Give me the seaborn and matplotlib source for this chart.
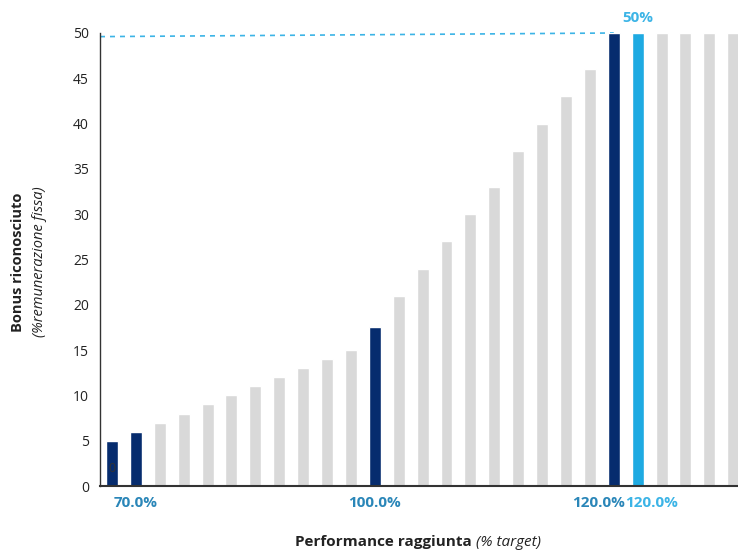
import matplotlib
matplotlib.use("Agg")
import matplotlib.pyplot as plt
import matplotlib.transforms as mtransforms
import seaborn as sns
import pandas as pd

# Data
bonus = [5, 6, 7, 8, 9, 10, 11, 12, 13, 14, 15, 17.5, 21, 24, 27, 30, 33, 37, 40, 43, 46,
         50, 50, 50, 50, 50, 50]
groups = ['dark', 'dark', 'gray', 'gray', 'gray', 'gray', 'gray', 'gray', 'gray', 'gray', 'gray',
          'dark', 'gray', 'gray', 'gray', 'gray', 'gray', 'gray', 'gray', 'gray', 'gray',
          'dark', 'light', 'gray', 'gray', 'gray', 'gray']
yticks = [0, 5, 10, 15, 20, 25, 30, 35, 40, 45, 50]
palette = {'dark': '#062C6E', 'light': '#1EAAE2', 'gray': '#D9D9D9'}

sns.set_style("white")
plt.rcParams['font.family'] = ['Open Sans', 'DejaVu Sans']

df = pd.DataFrame({'pos': list(range(len(bonus))), 'bonus': bonus, 'grp': groups})

fig = plt.figure(figsize=(7.38, 5.52), dpi=100)
ax = fig.add_axes([100/738, 1-486/552, 1-100/738, (486-33)/552])
sns.barplot(data=df, x='pos', y='bonus', hue='grp', palette=palette, dodge=False,
            width=0.5, legend=False, ax=ax, saturation=1)

ax.set_xlim(-0.5, 26.2)
ax.set_ylim(0, 50)
ax.set_yticks(yticks)
ax.set_yticklabels([str(t) for t in yticks], fontsize=10, color='#222222')
ax.set_xticks([])
ax.set_xlabel('')
ax.set_ylabel('')
ax.tick_params(axis='y', length=0, pad=8)
for s in ['top', 'right']:
    ax.spines[s].set_visible(False)
ax.spines['left'].set_color('#333333')
ax.spines['bottom'].set_color('#333333')
ax.spines['left'].set_linewidth(1.0)
ax.spines['bottom'].set_linewidth(1.5)

# dashed target line
ax.plot([-0.5, 21], [49.6, 50], ls=(0, (3, 3)), color='#3CB4E6', lw=1.2, clip_on=False, zorder=0)

# labels
ax.text(22, 50.9, '50%', color='#3CB4E6', fontsize=11, fontweight='bold', ha='center', va='bottom')
ax.text(0, 1.2, '0', color='#333333', fontsize=9, ha='center', va='bottom', zorder=10)

trans = mtransforms.blended_transform_factory(ax.transData, ax.transAxes)
ax.text(1, -0.038, '70.0%', color='#2A86B8', fontsize=11, fontweight='bold', ha='center', va='center', transform=trans)
ax.text(11, -0.038, '100.0%', color='#2A86B8', fontsize=11, fontweight='bold', ha='center', va='center', transform=trans)
ax.text(21.48, -0.038, '120.0%', color='#2A86B8', fontsize=11, fontweight='bold', ha='right', va='center', transform=trans)
ax.text(21.48, -0.038, '120.0%', color='#3CB4E6', fontsize=11, fontweight='bold', ha='left', va='center', transform=trans)

# axis titles
fig.text(472/738, 1-542/552, 'Performance raggiunta', fontsize=11, fontweight='bold', color='#222222', ha='right', va='center')
fig.text(476/738, 1-542/552, '(% target)', fontsize=11, fontstyle='italic', color='#222222', ha='left', va='center')
fig.text(18/738, 1-262/552, 'Bonus riconosciuto', fontsize=10.5, fontweight='bold', color='#222222', rotation=90, ha='center', va='center')
fig.text(40/738, 1-262/552, '(%remunerazione fissa)', fontsize=10.5, fontstyle='italic', color='#222222', rotation=90, ha='center', va='center')

fig.savefig('out.png', dpi=100)
